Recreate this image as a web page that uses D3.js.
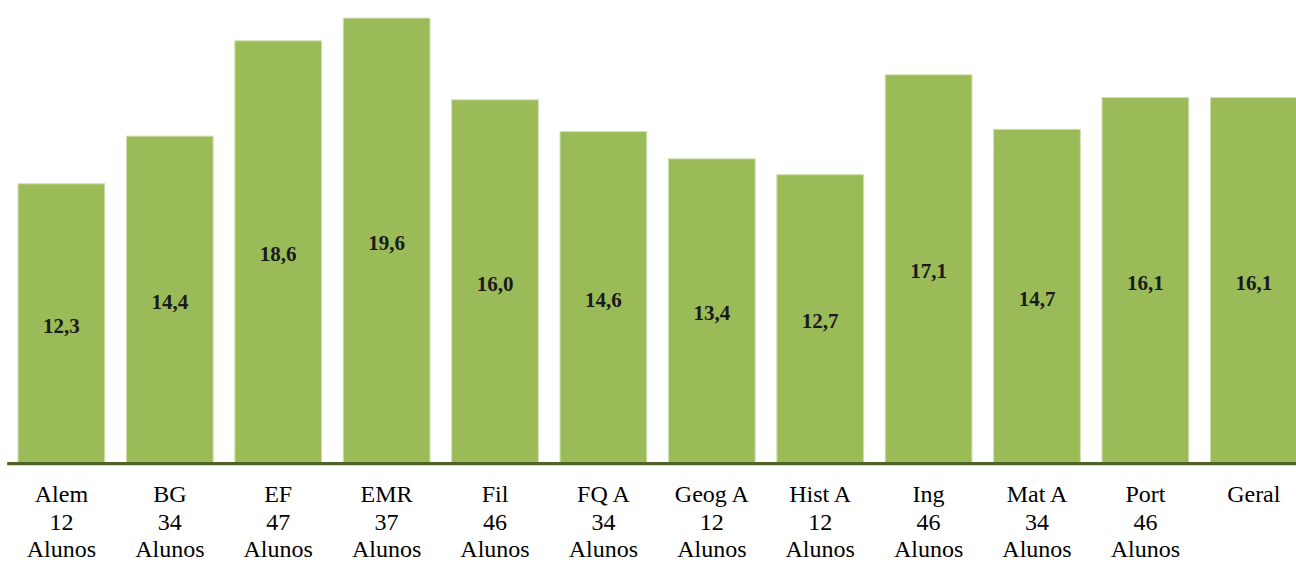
<!DOCTYPE html>
<html>
<head>
<meta charset="utf-8">
<script src="https://cdn.jsdelivr.net/npm/d3@7"></script>
<style>
  html, body { margin: 0; padding: 0; background: #ffffff; }
  svg { display: block; }
</style>
</head>
<body>
<svg id="chart" width="1296" height="563"></svg>
<script>
const categories = ["Alem", "BG", "EF", "EMR", "Fil", "FQ A", "Geog A", "Hist A", "Ing", "Mat A", "Port", "Geral"];
const students = ["12", "34", "47", "37", "46", "34", "12", "12", "46", "34", "46", ""];
const values = [12.3, 14.4, 18.6, 19.6, 16.0, 14.6, 13.4, 12.7, 17.1, 14.7, 16.1, 16.1];
const yMax = 20;

const svg = d3.select("#chart");
const baseY = 463;

const x = d3.scaleBand()
  .domain(categories)
  .range([7.2, 1308])
  .paddingInner(0.2)
  .paddingOuter(0.1);

const y = d3.scaleLinear()
  .domain([0, yMax])
  .range([baseY, baseY - yMax * 22.7]);

const data = categories.map((c, i) => ({ cat: c, n: students[i], v: values[i] }));

svg.append("g").selectAll("rect")
  .data(data)
  .join("rect")
  .attr("x", d => x(d.cat))
  .attr("y", d => y(d.v))
  .attr("width", x.bandwidth())
  .attr("height", d => y(0) - y(d.v))
  .attr("fill", "#9BBB59")
  .attr("stroke", "#cfdfae")
  .attr("stroke-width", 1);

svg.append("g").selectAll("text")
  .data(data)
  .join("text")
  .attr("x", d => x(d.cat) + x.bandwidth() / 2)
  .attr("y", d => (y(d.v) + y(0)) / 2)
  .attr("dy", "0.45em")
  .attr("text-anchor", "middle")
  .attr("font-family", "'Liberation Serif', serif")
  .attr("font-weight", "bold")
  .attr("font-size", 21)
  .attr("fill", "#1a1a1a")
  .text(d => d3.format(".1f")(d.v).replace(".", ","));

// baseline
svg.append("line")
  .attr("x1", 7.2).attr("x2", 1296)
  .attr("y1", baseY + 0.7).attr("y2", baseY + 0.7)
  .attr("stroke", "#4F6228")
  .attr("stroke-width", 3.3);

const labels = svg.append("g").selectAll("text")
  .data(data)
  .join("text")
  .attr("x", d => x(d.cat) + x.bandwidth() / 2)
  .attr("text-anchor", "middle")
  .attr("font-family", "'Liberation Serif', serif")
  .attr("font-size", 24)
  .attr("fill", "#000000");

labels.append("tspan")
  .attr("x", d => x(d.cat) + x.bandwidth() / 2)
  .attr("y", 501.5)
  .text(d => d.cat);
labels.filter(d => d.n !== "").append("tspan")
  .attr("x", d => x(d.cat) + x.bandwidth() / 2)
  .attr("y", 529.5)
  .text(d => d.n);
labels.filter(d => d.n !== "").append("tspan")
  .attr("x", d => x(d.cat) + x.bandwidth() / 2)
  .attr("y", 557)
  .text("Alunos");
</script>
</body>
</html>
